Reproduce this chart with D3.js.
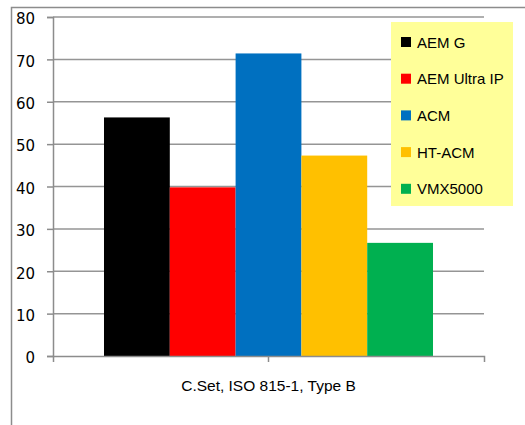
<!DOCTYPE html>
<html>
<head>
<meta charset="utf-8">
<script src="https://cdn.jsdelivr.net/npm/d3@7"></script>
<style>
  body { margin: 0; background: #fff; }
  svg { display: block; }
</style>
</head>
<body>
<div id="vis"></div>
<script>
// Declare constants
const FRAME_WIDTH = 525;
const FRAME_HEIGHT = 425;
const MARGINS = {left: 53, right: 41, top: 17, bottom: 69};

const VIS_WIDTH = FRAME_WIDTH - MARGINS.left - MARGINS.right;
const VIS_HEIGHT = FRAME_HEIGHT - MARGINS.top - MARGINS.bottom;

// data
const CATEGORY = ["C.Set, ISO 815-1, Type B"];
const SERIES = ["AEM G", "AEM Ultra IP", "ACM", "HT-ACM", "VMX5000"];
const VALUES = [56.3, 39.8, 71.4, 47.3, 26.7];
const COLORS = ["#000000", "#ff0000", "#0070c0", "#ffc000", "#00b050"];
const Y_TICKS = [0, 10, 20, 30, 40, 50, 60, 70, 80];

const FRAME = d3.select("#vis")
                .append("svg")
                  .attr("width", FRAME_WIDTH)
                  .attr("height", FRAME_HEIGHT);

// outer chart border (runs off the page right and bottom)
FRAME.append("path")
      .attr("d", "M11.5," + (FRAME_HEIGHT + 5) + "V7.5H" + (FRAME_WIDTH + 5))
      .attr("fill", "none")
      .attr("stroke", "#8c8c8c")
      .attr("stroke-width", 1.5);

// scales
const X_SCALE = d3.scaleBand()
                  .domain(CATEGORY)
                  .range([0, VIS_WIDTH]);

const X_INNER = d3.scaleBand()
                  .domain(SERIES)
                  .range([0, X_SCALE.bandwidth()])
                  .paddingOuter(0.775)
                  .paddingInner(0);

const Y_SCALE = d3.scaleLinear()
                  .domain([0, 80])
                  .range([VIS_HEIGHT, 0]);

const PLOT = FRAME.append("g")
                  .attr("transform", "translate(" + MARGINS.left + "," + MARGINS.top + ")");

// gridlines
PLOT.selectAll(".grid")
    .data(Y_TICKS.filter(d => d > 0))
    .enter()
    .append("line")
      .attr("x1", 0)
      .attr("x2", VIS_WIDTH)
      .attr("y1", d => Y_SCALE(d))
      .attr("y2", d => Y_SCALE(d))
      .attr("stroke", "#959595")
      .attr("stroke-width", 1.5);

// bars
PLOT.selectAll(".bar")
    .data(VALUES)
    .enter()
    .append("rect")
      .attr("x", (d, i) => X_SCALE(CATEGORY[0]) + X_INNER(SERIES[i]))
      .attr("y", d => Y_SCALE(d))
      .attr("width", X_INNER.bandwidth())
      .attr("height", d => VIS_HEIGHT - Y_SCALE(d))
      .attr("fill", (d, i) => COLORS[i]);

// y axis
const Y_AXIS = PLOT.append("g")
    .call(d3.axisLeft(Y_SCALE).tickValues(Y_TICKS).tickSize(6).tickPadding(12));
Y_AXIS.select(".domain").attr("stroke", "#8c8c8c").attr("stroke-width", 1.5);
Y_AXIS.selectAll(".tick line").attr("stroke", "#8c8c8c").attr("stroke-width", 1.5);
Y_AXIS.selectAll(".tick text")
      .attr("font-family", "DejaVu Sans")
      .attr("font-size", "15px")
      .attr("y", 2)
      .attr("fill", "#000");

// x axis
const X_AXIS = PLOT.append("g")
    .attr("transform", "translate(0," + VIS_HEIGHT + ")")
    .call(d3.axisBottom(X_SCALE).tickSizeOuter(6).tickSizeInner(6).tickPadding(18));
X_AXIS.select(".domain").attr("stroke", "#8c8c8c").attr("stroke-width", 1.5);
X_AXIS.selectAll(".tick line").attr("stroke", "#8c8c8c").attr("stroke-width", 1.5);
X_AXIS.selectAll(".tick text")
      .attr("font-family", "Liberation Sans")
      .attr("font-size", "15.5px")
      .attr("fill", "#000");

// legend
const LEGEND = FRAME.append("g").attr("transform", "translate(391,22)");
LEGEND.append("rect")
      .attr("width", 122)
      .attr("height", 184)
      .attr("fill", "#ffff99");

const ITEMS = LEGEND.selectAll(".item")
    .data(SERIES)
    .enter()
    .append("g")
      .attr("transform", (d, i) => "translate(10," + (20 + i * 36.7) + ")");

ITEMS.append("rect")
      .attr("x", 0)
      .attr("y", -5)
      .attr("width", 10)
      .attr("height", 10)
      .attr("fill", (d, i) => COLORS[i]);

ITEMS.append("text")
      .attr("x", 16)
      .attr("y", 5.5)
      .attr("font-family", "Liberation Sans")
      .attr("font-size", "15px")
      .attr("fill", "#000")
      .text(d => d);
</script>
</body>
</html>
